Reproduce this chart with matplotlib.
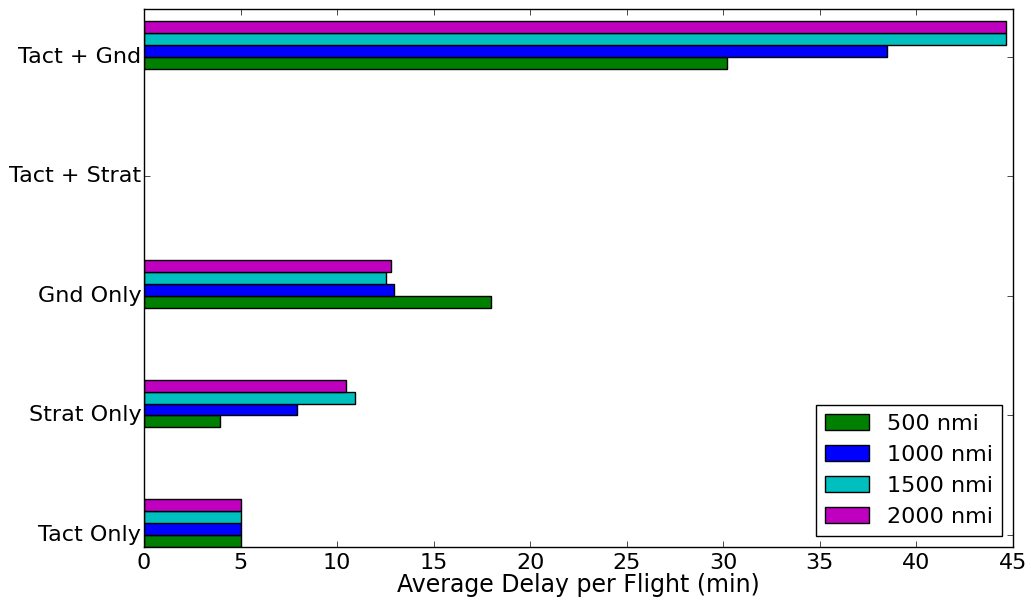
import numpy as np
import matplotlib
matplotlib.use('Agg')
import matplotlib.pyplot as plt

# Data (Tact + Strat has no bars)
categories = ['Tact Only', 'Strat Only', 'Gnd Only', 'Tact + Strat', 'Tact + Gnd']
labels = ['500 nmi', '1000 nmi', '1500 nmi', '2000 nmi']
delay_500 = [5.0, 3.94, 17.95, np.nan, 30.2]
delay_1000 = [5.0, 7.92, 12.95, np.nan, 38.46]
delay_1500 = [5.0, 10.94, 12.51, np.nan, 44.64]
delay_2000 = [5.0, 10.44, 12.78, np.nan, 44.64]

plt.style.use('classic')

fig = plt.figure(figsize=(10.31, 6.03))
ax = fig.add_axes([144 / 1031, 1 - 547 / 603, (1013 - 144) / 1031, (547 - 9) / 603])

ind = np.arange(len(categories))
width = 0.1
series = [delay_500, delay_1000, delay_1500, delay_2000]
colors = ['g', 'b', 'c', 'm']
for k, (vals, c, lab) in enumerate(zip(series, colors, labels)):
    ax.barh(ind + k * width, vals, width, color=c, label=lab, align='edge')

ax.set_yticks(ind + width)
ax.set_yticklabels(categories, fontsize=16)
ax.tick_params(axis='y', pad=2)
ax.set_ylim(0, 4.5)
ax.set_xlim(0, 45)
ax.tick_params(axis='x', labelsize=16)
ax.set_xlabel('Average Delay per Flight (min)', fontsize=17, labelpad=0)
ax.legend(loc='lower right', fontsize=16)

fig.savefig('out.png', dpi=100)
